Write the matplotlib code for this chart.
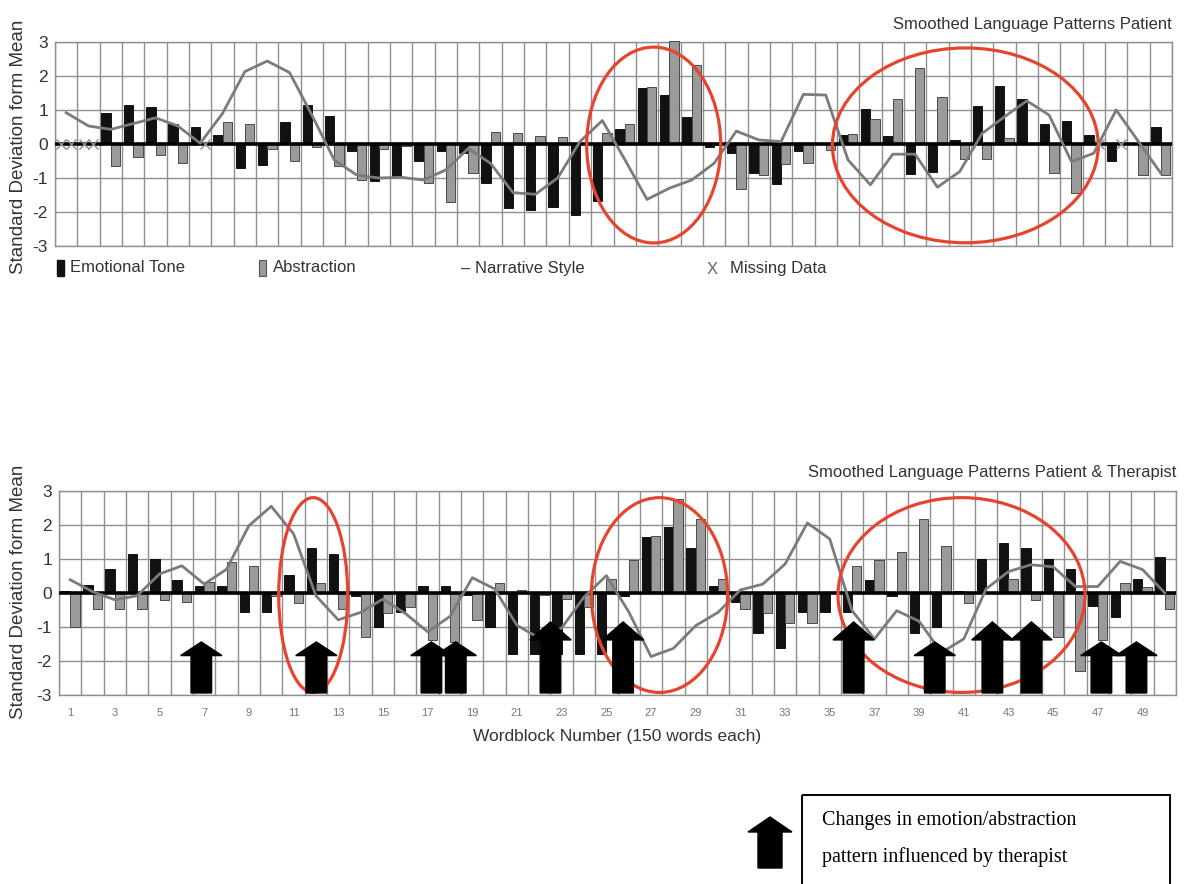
import numpy as np
import matplotlib
matplotlib.use("Agg")
import matplotlib.pyplot as plt
from matplotlib.patches import Ellipse, Polygon, Rectangle

nan = np.nan
wordblocks = np.arange(1, 51)

# ---------------- Top chart: Patient ----------------
top_title = "Smoothed Language Patterns Patient"
top_emotional = [nan, nan, 0.90, 1.15, 1.10, 0.60, 0.49, 0.26, -0.72, -0.62,
                 0.66, 1.15, 0.83, -0.20, -1.09, -0.94, -0.49, -0.20, -0.25, -1.16,
                 -1.89, -1.94, -1.84, -2.09, -1.68, 0.43, 1.64, 1.44, 0.80, -0.08,
                 -0.27, -0.84, -1.19, -0.20, nan, 0.26, 1.03, 0.25, -0.88, -0.81,
                 0.12, 1.13, 1.72, 1.32, 0.59, 0.69, 0.26, -0.49, nan, 0.51]
top_abstraction = [nan, nan, -0.64, -0.37, -0.33, -0.55, nan, 0.66, 0.59, -0.15,
                   -0.49, -0.10, -0.64, -1.06, -0.16, -0.05, -1.16, -1.70, -0.84, 0.36,
                   0.31, 0.24, 0.20, nan, 0.31, 0.60, 1.67, 3.04, 2.32, -0.03,
                   -1.32, -0.91, -0.60, -0.57, -0.18, 0.29, 0.73, 1.32, 2.23, 1.39,
                   -0.44, -0.45, 0.19, nan, -0.86, -1.45, nan, nan, -0.91, -0.91]
top_narrative = [0.92, 0.53, 0.43, 0.60, 0.77, 0.53, 0.02, 0.90, 2.13, 2.44,
                 2.10, 0.85, -0.47, -0.91, -1.00, -0.98, -1.06, -0.76, -0.13, -0.57,
                 -1.43, -1.48, -1.00, 0.07, 0.69, -0.45, -1.63, -1.30, -1.06, -0.57,
                 0.38, 0.12, 0.07, 1.46, 1.44, -0.47, -1.20, -0.30, -0.30, -1.27,
                 -0.81, 0.31, 0.80, 1.27, 0.85, -0.52, -0.27, 1.00, 0.07, -0.86]
top_missing_emotional = [1, 2]
top_missing_abstraction = [1, 2, 7, 47, 48]
top_circles = [(27.3, -0.03, 6.0, 5.76), (41.25, -0.04, 11.9, 5.73)]

# ---------------- Bottom chart: Patient & Therapist ----------------
bot_title = "Smoothed Language Patterns Patient & Therapist"
bot_emotional = [0.07, 0.23, 0.70, 1.15, 1.00, 0.39, 0.22, 0.22, -0.57, -0.57,
                 0.54, 1.31, 1.15, -0.08, -1.00, -0.57, 0.22, 0.22, -0.06, -1.00,
                 -1.80, -1.80, -1.80, -1.80, -1.80, -0.08, 1.64, 1.93, 1.31, 0.22,
                 -0.25, -1.18, -1.63, -0.57, -0.57, -0.57, 0.39, -0.08, -1.18, -1.00,
                 0.07, 1.00, 1.46, 1.31, 1.00, 0.70, -0.39, -0.72, 0.41, 1.07]
bot_abstraction = [-1.00, -0.47, -0.47, -0.47, -0.20, -0.27, 0.31, 0.92, 0.80, -0.10,
                   -0.29, 0.30, -0.47, -1.28, -0.59, -0.42, -1.37, -1.45, -0.79, 0.29,
                   0.09, -0.05, -0.18, -0.40, 0.41, 0.98, 1.69, 2.76, 2.18, 0.41,
                   -0.47, -0.59, -0.88, -0.88, nan, 0.80, 0.97, 1.20, 2.18, 1.39,
                   -0.29, nan, 0.41, -0.20, -1.28, -2.28, -1.37, 0.29, 0.17, -0.47]
bot_narrative = [0.39, 0.04, -0.20, -0.08, 0.56, 0.80, 0.26, 0.70, 1.98, 2.55,
                 1.74, -0.08, -0.79, -0.57, -0.18, -0.60, -1.14, -0.69, 0.45, 0.12,
                 -0.95, -1.33, -1.03, -0.12, 0.51, -0.55, -1.87, -1.63, -0.96, -0.57,
                 0.09, 0.26, 0.85, 2.06, 1.59, -0.52, -1.35, -0.52, -0.83, -1.75,
                 -1.35, 0.12, 0.63, 0.83, 0.77, 0.19, 0.19, 0.93, 0.69, 0.00]
bot_circles = [(11.88, -0.06, 3.09, 5.73), (27.38, -0.06, 6.1, 5.73), (40.9, -0.06, 11.06, 5.73)]
# therapist-influence arrows: (wordblock position, arrow top)
arrow_positions = [6.87, 12.02, 17.17, 18.26, 22.5, 25.75, 36.07, 39.7, 42.28, 44.03, 47.16, 48.73]
arrow_tops = [-1.44, -1.44, -1.44, -1.44, -0.85, -0.85, -0.85, -1.44, -0.85, -0.85, -1.44, -1.44]

legend_labels = ["Emotional Tone", "Abstraction", "Narrative Style", "Missing Data"]
ylabel = "Standard Deviation form Mean"
xlabel = "Wordblock Number (150 words each)"
note_lines = ["Changes in emotion/abstraction", "pattern influenced by therapist"]

SANS = ["Liberation Sans", "DejaVu Sans"]
SERIF = ["Liberation Serif", "DejaVu Serif"]
plt.rcParams['font.family'] = SANS

W, H = 1188, 884
fig = plt.figure(figsize=(W / 100, H / 100), dpi=100)
fig.patch.set_facecolor("white")

GRID = "#8f8f8f"
GREY_BAR = "#9a9a9a"
LINE_C = "#7b7b7b"
RED = "#e5452f"
TXT = "#333333"


def px_rect(left, top, right, bottom):
    return [left / W, 1 - bottom / H, (right - left) / W, (bottom - top) / H]


def up_arrow(ax, xc, ytop, ybot, head_w, shaft_w, head_len, **kw):
    pts = [(xc - shaft_w / 2, ybot), (xc - shaft_w / 2, ytop - head_len),
           (xc - head_w / 2, ytop - head_len), (xc, ytop),
           (xc + head_w / 2, ytop - head_len), (xc + shaft_w / 2, ytop - head_len),
           (xc + shaft_w / 2, ybot)]
    ax.add_patch(Polygon(pts, closed=True, **kw))


def draw_chart(ax, emo, abs_, narr, circles, show_xticks):
    emo = np.array(emo, dtype=float)
    abs_ = np.array(abs_, dtype=float)
    ok_e = ~np.isnan(emo)
    ok_a = ~np.isnan(abs_)
    b1 = ax.bar(wordblocks[ok_e] - 0.21, emo[ok_e], width=0.42, color="#111111",
                edgecolor="#000000", linewidth=0.6, zorder=3)
    b2 = ax.bar(wordblocks[ok_a] + 0.21, abs_[ok_a], width=0.42, color=GREY_BAR,
                edgecolor="#4a4a4a", linewidth=0.7, zorder=3)
    for p in list(b1) + list(b2):
        p.set_clip_on(False)
    ax.plot(wordblocks, narr, color=LINE_C, lw=2.0, zorder=5)
    ax.axhline(0, color="black", lw=2.6, zorder=4)
    for (cx, cy, w, h) in circles:
        ax.add_patch(Ellipse((cx, cy), w, h, fill=False, ec=RED, lw=2.3, zorder=6))
    ax.set_xlim(0.5, 50.5)
    ax.set_ylim(-3, 3)
    ax.set_yticks(np.arange(-3, 4))
    ax.set_yticklabels([str(v) for v in range(-3, 4)], fontsize=12.5, color=TXT)
    ax.set_xticks(np.arange(0.5, 51, 1), minor=True)
    if show_xticks:
        ax.set_xticks(np.arange(1, 51, 2))
        ax.set_xticklabels([str(v) for v in range(1, 51, 2)], fontsize=8, color="#777777")
    else:
        ax.set_xticks([])
    ax.tick_params(axis="both", which="both", length=0)
    ax.tick_params(axis="y", pad=5)
    ax.tick_params(axis="x", pad=9)
    ax.grid(True, axis="y", which="major", color=GRID, lw=1.0, zorder=0)
    ax.grid(True, axis="x", which="minor", color=GRID, lw=1.0, zorder=0)
    ax.set_axisbelow(True)
    for s in ax.spines.values():
        s.set_color(GRID)
        s.set_linewidth(1.0)


# ---- top ----
ax1 = fig.add_axes(px_rect(55, 42, 1172, 246))
draw_chart(ax1, top_emotional, top_abstraction, top_narrative, top_circles, False)
ax1.plot(np.array(top_missing_emotional) - 0.21, np.zeros(len(top_missing_emotional)),
         ls="none", marker="x", ms=7, mew=1.0, color="#8a8a8a", zorder=6)
ax1.plot(np.array(top_missing_abstraction) + 0.21, np.zeros(len(top_missing_abstraction)),
         ls="none", marker="x", ms=7, mew=1.0, color="#8a8a8a", zorder=6)

# ---- bottom ----
ax2 = fig.add_axes(px_rect(59, 491, 1176, 695))
draw_chart(ax2, bot_emotional, bot_abstraction, bot_narrative, bot_circles, True)
for xa, yt in zip(arrow_positions, arrow_tops):
    big = yt > -1.0
    up_arrow(ax2, xa, yt, -2.94, head_w=1.85, shaft_w=0.92,
             head_len=0.53 if big else 0.40, color="black", zorder=7)

# ---- overlay (pixel coordinates) ----
ov = fig.add_axes([0, 0, 1, 1], zorder=10)
ov.set_xlim(0, W)
ov.set_ylim(H, 0)
ov.axis("off")
ov.patch.set_alpha(0)

ov.text(1172, 24, top_title, ha="right", va="center", fontsize=12, color=TXT)
ov.text(1176, 472, bot_title, ha="right", va="center", fontsize=12, color=TXT)
ov.text(19, 147, ylabel, rotation=90, ha="center", va="center", fontsize=13.5, color=TXT)
ov.text(19, 592, ylabel, rotation=90, ha="center", va="center", fontsize=13.5, color=TXT)
ov.text(617, 737, xlabel, ha="center", va="center", fontsize=12.5, color=TXT)

# legend (top chart)
ly = 268
ov.add_patch(Rectangle((57, ly - 8), 7, 16, color="#111111"))
ov.text(70, ly, legend_labels[0], ha="left", va="center", fontsize=12, color=TXT)
ov.add_patch(Rectangle((259, ly - 8), 7, 16, facecolor=GREY_BAR, edgecolor="#555555", lw=0.8))
ov.text(273, ly, legend_labels[1], ha="left", va="center", fontsize=12, color=TXT)
ov.text(461, ly, "\u2013 " + legend_labels[2], ha="left", va="center", fontsize=12, color=TXT)
ov.text(707, ly + 1, "X", ha="left", va="center", fontsize=12, color="#666666", fontweight="light")
ov.text(730, ly, legend_labels[3], ha="left", va="center", fontsize=12, color=TXT)

# note box
ov.add_patch(Rectangle((802, 795), 368, 100, fill=False, ec="black", lw=1.4, clip_on=False))
ov.text(822, 820, note_lines[0], ha="left", va="center", fontsize=14.5, family=SERIF, color="black")
ov.text(822, 857, note_lines[1], ha="left", va="center", fontsize=14.5, family=SERIF, color="black")
up_arrow(ov, 770, 817, 868, head_w=44, shaft_w=24, head_len=-15, color="black")

fig.savefig("out.png", dpi=100, facecolor="white")
